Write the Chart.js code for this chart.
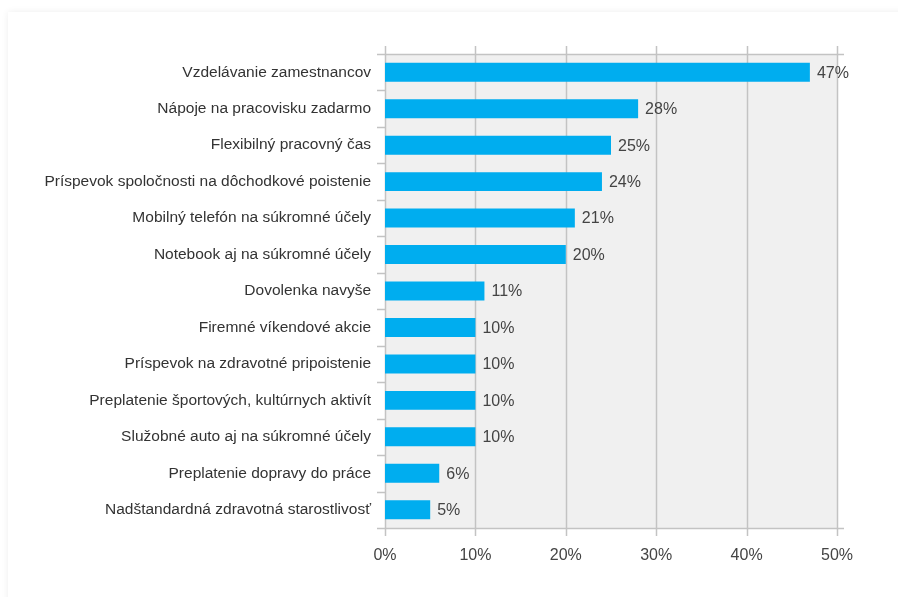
<!DOCTYPE html>
<html>
<head>
<meta charset="utf-8">
<script src="https://cdn.jsdelivr.net/npm/chart.js@4"></script>
<style>
  html, body { margin:0; padding:0; background:#fff; width:898px; height:597px; overflow:hidden; }
  #card { position:absolute; left:8px; top:12px; width:910px; height:610px; background:#fff;
          box-shadow: 0 0 7px rgba(0,0,0,0.07); }
  #wrap { position:absolute; left:0; top:0; width:898px; height:597px; }
</style>
</head>
<body>
<div id="card"></div>
<div id="wrap"><canvas id="c" width="898" height="597"></canvas></div>
<script>
const categories = [
  "Vzdelávanie zamestnancov",
  "Nápoje na pracovisku zadarmo",
  "Flexibilný pracovný čas",
  "Príspevok spoločnosti na dôchodkové poistenie",
  "Mobilný telefón na súkromné účely",
  "Notebook aj na súkromné účely",
  "Dovolenka navyše",
  "Firemné víkendové akcie",
  "Príspevok na zdravotné pripoistenie",
  "Preplatenie športových, kultúrnych aktivít",
  "Služobné auto aj na súkromné účely",
  "Preplatenie dopravy do práce",
  "Nadštandardná zdravotná starostlivosť"
];
const values = [47, 28, 25, 24, 21, 20, 11, 10, 10, 10, 10, 6, 5];
const xTicks = [0, 10, 20, 30, 40, 50];

const FONT = '"Liberation Sans", Arial, Helvetica, sans-serif';
const GRID = '#c3c3c3';

const framePlugin = {
  id: 'frame',
  beforeDatasetsDraw(chart) {
    const {ctx, chartArea: a, scales: {x, y}} = chart;
    ctx.save();
    ctx.fillStyle = '#f0f0f0';
    ctx.fillRect(a.left, a.top, a.right - a.left, a.bottom - a.top);
    ctx.strokeStyle = GRID;
    ctx.lineWidth = 1.5;
    xTicks.forEach(v => {
      const px = Math.round(x.getPixelForValue(v)) + 0.5;
      ctx.beginPath();
      ctx.moveTo(px, a.top - 8);
      ctx.lineTo(px, a.bottom + 8);
      ctx.stroke();
    });
    [a.top, a.bottom].forEach(py => {
      const yy = Math.round(py) + 0.5;
      ctx.beginPath();
      ctx.moveTo(a.left - 8, yy);
      ctx.lineTo(a.right + 7, yy);
      ctx.stroke();
    });
    const n = categories.length;
    const step = (a.bottom - a.top) / n;
    for (let i = 1; i < n; i++) {
      const yy = Math.round(a.top + i * step) + 0.5;
      ctx.beginPath();
      ctx.moveTo(a.left - 8, yy);
      ctx.lineTo(a.left, yy);
      ctx.stroke();
    }
    ctx.restore();
  },
  afterDatasetsDraw(chart) {
    const {ctx} = chart;
    const meta = chart.getDatasetMeta(0);
    ctx.save();
    ctx.fillStyle = '#444';
    ctx.font = '16px ' + FONT;
    ctx.textAlign = 'left';
    ctx.textBaseline = 'middle';
    meta.data.forEach((bar, i) => {
      ctx.fillText(values[i] + '%', bar.x + 7, bar.y + 1);
    });
    ctx.restore();
  }
};

new Chart(document.getElementById('c'), {
  type: 'bar',
  data: {
    labels: categories,
    datasets: [{
      data: values,
      backgroundColor: '#00adef',
      borderWidth: 0,
      categoryPercentage: 1,
      barPercentage: 0.52
    }]
  },
  options: {
    indexAxis: 'y',
    responsive: false,
    animation: false,
    devicePixelRatio: 1,
    layout: { padding: { top: 54, right: 61, left: 0, bottom: 0 } },
    plugins: { legend: { display: false }, tooltip: { enabled: false } },
    scales: {
      x: {
        min: 0, max: 50,
        afterBuildTicks(scale) { scale.ticks = xTicks.map(v => ({value: v})); },
        afterFit(scale) { scale.height = 597 - 528; },
        grid: { display: false, drawTicks: false },
        border: { display: false },
        ticks: {
          color: '#444',
          font: { size: 16, family: FONT },
          padding: 18,
          callback: v => v + '%'
        }
      },
      y: {
        afterFit(scale) { scale.width = 385; },
        grid: { display: false, drawTicks: false },
        border: { display: false },
        ticks: {
          color: '#333',
          font: { size: 15.5, family: FONT },
          padding: 14,
          autoSkip: false
        }
      }
    }
  },
  plugins: [framePlugin]
});
</script>
</body>
</html>
